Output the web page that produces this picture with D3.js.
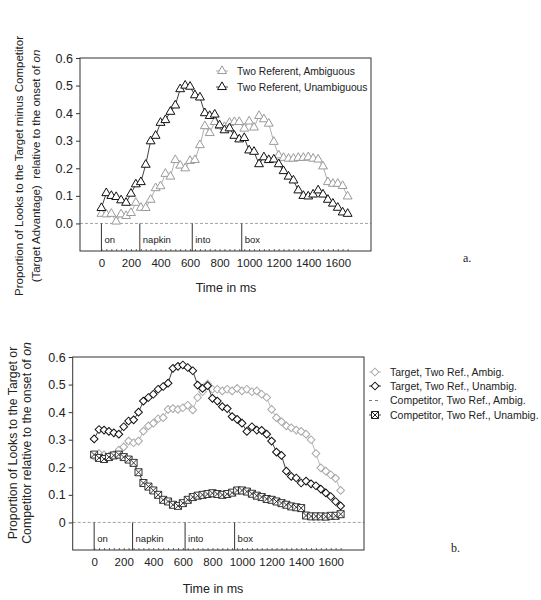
<!DOCTYPE html>
<html><head><meta charset="utf-8">
<script src="https://cdn.jsdelivr.net/npm/d3@7"></script>
<style>
body{margin:0;background:#fff;}
svg{display:block;font-family:"Liberation Sans",Arial,sans-serif;}
</style>
</head><body>
<svg id="c" width="541" height="600"></svg>
<script>
// ---------- data ----------
const timesMs = [0, 33, 67, 100, 133, 167, 200, 233, 267, 300, 333, 367, 400, 433, 467, 500, 533, 567, 600, 633, 667, 700, 733, 767, 800, 833, 867, 900, 933, 967, 1000, 1033, 1067, 1100, 1133, 1167, 1200, 1233, 1267, 1300, 1333, 1367, 1400, 1433, 1467, 1500, 1533, 1567, 1600, 1633, 1667];
const eventNames = ["on", "napkin", "into", "box"];
const eventTimes = [0, 260, 615, 950];
const xTickValues = [0, 200, 400, 600, 800, 1000, 1200, 1400, 1600];
const yTickValues = [0, 0.1, 0.2, 0.3, 0.4, 0.5, 0.6];
const yTickLabelsTop = ["0.0", "0.1", "0.2", "0.3", "0.4", "0.5", "0.6"];
const yTickLabelsBottom = ["0", "0.1", "0.2", "0.3", "0.4", "0.5", "0.6"];

// Panel a: target advantage
const topAmbig = [0.035, 0.033, 0.035, 0.007, 0.033, 0.027, 0.038, 0.075, 0.057, 0.056, 0.086, 0.128, 0.135, 0.18, 0.17, 0.23, 0.21, 0.20, 0.227, 0.23, 0.284, 0.353, 0.328, 0.368, 0.353, 0.35, 0.365, 0.368, 0.368, 0.344, 0.37, 0.348, 0.39, 0.378, 0.362, 0.296, 0.247, 0.238, 0.235, 0.235, 0.238, 0.238, 0.24, 0.235, 0.232, 0.207, 0.15, 0.144, 0.144, 0.136, 0.098];
const topUnambig = [0.056, 0.11, 0.10, 0.096, 0.084, 0.075, 0.108, 0.142, 0.15, 0.213, 0.298, 0.318, 0.365, 0.375, 0.405, 0.428, 0.487, 0.50, 0.496, 0.465, 0.457, 0.40, 0.39, 0.395, 0.356, 0.338, 0.345, 0.318, 0.305, 0.31, 0.265, 0.26, 0.215, 0.24, 0.23, 0.232, 0.215, 0.19, 0.17, 0.156, 0.12, 0.10, 0.098, 0.105, 0.12, 0.105, 0.086, 0.072, 0.057, 0.04, 0.035];
const topLegend = ["Two Referent, Ambiguous", "Two Referent, Unambiguous"];

// Panel b: target / competitor looks
const botTargetAmbig = [0.24, 0.25, 0.245, 0.24, 0.245, 0.262, 0.274, 0.295, 0.289, 0.295, 0.331, 0.35, 0.36, 0.376, 0.38, 0.41, 0.413, 0.41, 0.416, 0.425, 0.408, 0.453, 0.474, 0.502, 0.483, 0.483, 0.477, 0.483, 0.477, 0.486, 0.477, 0.483, 0.474, 0.477, 0.465, 0.453, 0.41, 0.38, 0.365, 0.35, 0.343, 0.335, 0.33, 0.32, 0.30, 0.25, 0.198, 0.186, 0.173, 0.16, 0.116];
const botTargetUnambig = [0.303, 0.337, 0.335, 0.33, 0.325, 0.32, 0.347, 0.368, 0.372, 0.40, 0.44, 0.453, 0.465, 0.483, 0.493, 0.505, 0.559, 0.566, 0.571, 0.562, 0.55, 0.498, 0.486, 0.496, 0.45, 0.44, 0.42, 0.413, 0.384, 0.374, 0.36, 0.33, 0.347, 0.335, 0.334, 0.32, 0.295, 0.255, 0.243, 0.186, 0.167, 0.161, 0.143, 0.15, 0.14, 0.133, 0.121, 0.107, 0.094, 0.076, 0.06];
const botCompAmbig = [0.24, 0.232, 0.228, 0.235, 0.24, 0.243, 0.235, 0.226, 0.213, 0.18, 0.145, 0.13, 0.118, 0.1, 0.085, 0.078, 0.066, 0.062, 0.07, 0.08, 0.09, 0.096, 0.1, 0.104, 0.106, 0.104, 0.1, 0.104, 0.108, 0.114, 0.115, 0.11, 0.104, 0.098, 0.092, 0.086, 0.082, 0.076, 0.07, 0.064, 0.058, 0.055, 0.05, 0.026, 0.022, 0.021, 0.021, 0.021, 0.023, 0.025, 0.032];
const botCompUnambig = [0.246, 0.234, 0.23, 0.237, 0.243, 0.246, 0.237, 0.228, 0.216, 0.182, 0.143, 0.13, 0.116, 0.1, 0.082, 0.076, 0.064, 0.06, 0.07, 0.082, 0.092, 0.097, 0.1, 0.103, 0.106, 0.103, 0.1, 0.103, 0.108, 0.116, 0.116, 0.112, 0.104, 0.097, 0.092, 0.085, 0.082, 0.076, 0.07, 0.064, 0.058, 0.055, 0.052, 0.025, 0.022, 0.022, 0.022, 0.021, 0.024, 0.024, 0.03];
const botLegend = ["Target, Two Ref., Ambig.", "Target, Two Ref., Unambig.", "Competitor, Two Ref., Ambig.", "Competitor, Two Ref., Unambig."];

// ---------- drawing ----------
const FONT = '"Liberation Sans", Arial, sans-serif';
const svg = d3.select("#c");
const GRAY = "#9a9a9a", BLACK = "#111";

const triPath = d3.symbol().type(d3.symbolTriangle).size(34)();
const diaPath = d3.symbol().type(d3.symbolSquare).size(30)();
function boxXPath(h) { return `M${-h},${-h}H${h}V${h}H${-h}Z M${-h},${-h}L${h},${h} M${h},${-h}L${-h},${h}`; }

function panel(o) {
  const x = d3.scaleLinear().domain([-145, 1825]).range([o.x0, o.x1]);
  const y = d3.scaleLinear().domain([-0.1, 0.6]).range([o.y1, o.y0]);
  const g = svg.append("g");
  g.append("line").attr("x1", o.x0).attr("x2", o.x1).attr("y1", y(0)).attr("y2", y(0))
    .attr("stroke", "#8c8c8c").attr("stroke-width", 0.8).attr("stroke-dasharray", "3,2");
  eventTimes.forEach((t, i) => {
    g.append("line").attr("x1", x(t)).attr("x2", x(t)).attr("y1", y(0)).attr("y2", o.y1)
      .attr("stroke", "#333").attr("stroke-width", 1);
    g.append("text").attr("x", x(t) + 3).attr("y", y(-0.058)).attr("dy", "0.35em")
      .attr("font-size", 9.5).attr("font-family", FONT).attr("fill", "#222").text(eventNames[i]);
  });
  g.append("g").attr("transform", `translate(0,${o.y1})`)
    .call(d3.axisBottom(x).tickValues(timesMs).tickSize(-2).tickFormat(""))
    .call(a => a.select(".domain").remove())
    .call(a => a.selectAll("line").attr("stroke", "#444").attr("stroke-width", 0.8));
  g.append("g").attr("transform", `translate(0,${o.y1})`)
    .call(d3.axisBottom(x).tickValues(xTickValues).tickFormat(d3.format("d")).tickSize(0).tickPadding(8))
    .call(a => a.select(".domain").remove())
    .attr("font-size", 11.5).attr("font-family", FONT)
    .call(a => a.selectAll("text").attr("fill", "#222"));
  g.append("g").attr("transform", `translate(${o.x0},0)`)
    .call(d3.axisLeft(y).tickValues(yTickValues).tickFormat((d, i) => o.yLabels[i]).tickSize(4).tickPadding(3))
    .call(a => a.select(".domain").remove())
    .attr("font-size", 12.5).attr("font-family", FONT)
    .call(a => a.selectAll("line").attr("stroke", "#333"))
    .call(a => a.selectAll("text").attr("fill", "#222"));
  g.append("rect").attr("x", o.x0).attr("y", o.y0).attr("width", o.x1 - o.x0).attr("height", o.y1 - o.y0)
    .attr("fill", "none").attr("stroke", "#333").attr("stroke-width", 1);
  return { x, y, g };
}

function series(p, vals, color, marker, opts = {}) {
  const line = d3.line().x((d, i) => p.x(timesMs[i])).y(d => p.y(d));
  p.g.append("path").attr("d", line(vals)).attr("fill", "none").attr("stroke", color)
    .attr("stroke-width", opts.lw || 0.8).attr("stroke-dasharray", opts.dash || null);
  if (!marker) return;
  p.g.append("g").selectAll("path").data(vals).join("path")
    .attr("transform", (d, i) => `translate(${p.x(timesMs[i])},${p.y(d)})` + (opts.rot ? " rotate(45)" : ""))
    .attr("d", marker).attr("fill", "#fff").attr("stroke", color).attr("stroke-width", opts.sw || 1);
}

function legendRow(x, y, color, marker, label, size, opts = {}) {
  const lg = svg.append("g");
  lg.append("line").attr("x1", x - 6).attr("x2", x + 6).attr("y1", y).attr("y2", y)
    .attr("stroke", color).attr("stroke-width", 0.8).attr("stroke-dasharray", opts.dash || null);
  if (marker) lg.append("path").attr("d", marker).attr("transform", `translate(${x},${y})` + (opts.rot ? " rotate(45)" : ""))
    .attr("fill", "#fff").attr("stroke", color).attr("stroke-width", 1);
  lg.append("text").attr("x", x + 15).attr("y", y).attr("dy", "0.35em").attr("font-size", size)
    .attr("font-family", FONT).attr("fill", "#222").text(label);
}

// ----- Panel a -----
const pa = panel({ x0: 80, x1: 371, y0: 58, y1: 251, yLabels: yTickLabelsTop });
series(pa, topAmbig, GRAY, triPath);
series(pa, topUnambig, BLACK, triPath);
legendRow(222, 71, GRAY, triPath, topLegend[0], 10.3);
legendRow(222, 87, BLACK, triPath, topLegend[1], 10.3);

svg.append("text").attr("transform", "translate(23,166) rotate(-90)").attr("text-anchor", "middle")
  .attr("font-size", 11.5).attr("font-family", FONT).attr("fill", "#222")
  .text("Proportion of Looks to the Target minus Competitor");
const ta2 = svg.append("text").attr("transform", "translate(40,166) rotate(-90)").attr("text-anchor", "middle")
  .attr("font-size", 11.5).attr("font-family", FONT).attr("fill", "#222").attr("xml:space", "preserve");
ta2.append("tspan").text("(Target Advantage)  relative to the onset of ");
ta2.append("tspan").attr("font-style", "italic").text("on");

svg.append("text").attr("x", 226).attr("y", 292).attr("text-anchor", "middle")
  .attr("font-size", 12.5).attr("font-family", FONT).attr("fill", "#222").text("Time in ms");
svg.append("text").attr("x", 463).attr("y", 262).attr("font-size", 12)
  .attr("font-family", '"Liberation Serif","Times New Roman",serif').attr("fill", "#222").text("a.");

// ----- Panel b -----
const pb = panel({ x0: 72.7, x1: 364, y0: 357, y1: 550, yLabels: yTickLabelsBottom });
const sq = boxXPath(3.5);
series(pb, botTargetAmbig, "#a8a8a8", diaPath, { rot: true });
series(pb, botTargetUnambig, BLACK, diaPath, { rot: true });
series(pb, botCompAmbig, "#888", null, { dash: "3,2" });
series(pb, botCompUnambig, "#222", sq, { sw: 0.9 });

legendRow(375, 372, "#a8a8a8", diaPath, botLegend[0], 10.5, { rot: true });
legendRow(375, 386, BLACK, diaPath, botLegend[1], 10.5, { rot: true });
legendRow(375, 400.5, "#555", null, botLegend[2], 10.5, { dash: "3,3" });
legendRow(375, 415, "#222", sq, botLegend[3], 10.5);

svg.append("text").attr("transform", "translate(17,443) rotate(-90)").attr("text-anchor", "middle")
  .attr("font-size", 12.3).attr("font-family", FONT).attr("fill", "#222")
  .text("Proportion of Looks to the Target or");
const tb2 = svg.append("text").attr("transform", "translate(31,443) rotate(-90)").attr("text-anchor", "middle")
  .attr("font-size", 12.3).attr("font-family", FONT).attr("fill", "#222");
tb2.append("tspan").text("Competitor relative to the onset of ");
tb2.append("tspan").attr("font-style", "italic").text("on");

svg.append("text").attr("x", 213).attr("y", 593).attr("text-anchor", "middle")
  .attr("font-size", 12.5).attr("font-family", FONT).attr("fill", "#222").text("Time in ms");
svg.append("text").attr("x", 451).attr("y", 552).attr("font-size", 12)
  .attr("font-family", '"Liberation Serif","Times New Roman",serif').attr("fill", "#222").text("b.");
</script>
</body></html>
